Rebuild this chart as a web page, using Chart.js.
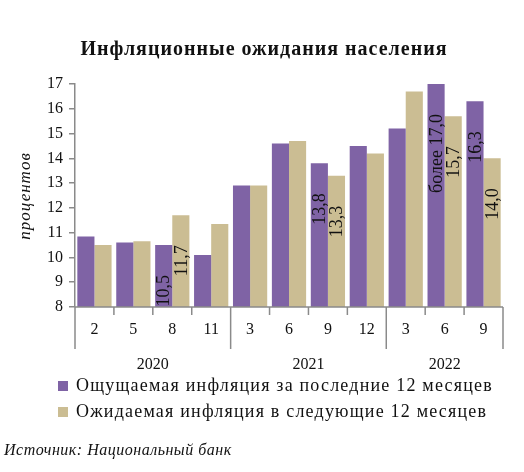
<!DOCTYPE html>
<html><head><meta charset="utf-8">
<script src="https://cdn.jsdelivr.net/npm/chart.js@4"></script>
<style>html,body{margin:0;padding:0;background:#fff}canvas{display:block}</style>
</head><body>
<div style="width:524px;height:472px"><canvas id="c"></canvas></div>
<script>
const months = ['2','5','8','11','3','6','9','12','3','6','9'];
const years = [{label:'2020',from:0,to:3},{label:'2021',from:4,to:7},{label:'2022',from:8,to:10}];
const felt = [10.85,10.6,10.5,10.1,12.9,14.6,13.8,14.5,15.2,17.0,16.3];
const expected = [10.5,10.65,11.7,11.35,12.9,14.7,13.3,14.2,16.7,15.7,14.0];
const feltLabels = {2:'10,5',6:'13,8',9:'более 17,0',10:'16,3'};
const expLabels = {2:'11,7',6:'13,3',9:'15,7',10:'14,0'};
const title = 'Инфляционные ожидания населения';
const seriesNames = ['Ощущаемая инфляция за последние 12 месяцев','Ожидаемая инфляция в следующие 12 месяцев'];
const source = 'Источник: Национальный банк';
const PURPLE='#7f63a5', TAN='#cbbd93', GREY='#8a8a8a';
const SERIF='"Liberation Serif","DejaVu Serif",serif';

const deco = {
  id:'deco',
  afterDatasetsDraw(chart){
    const ctx=chart.ctx, ca=chart.chartArea, x=chart.scales.x, y=chart.scales.y;
    ctx.save();
    ctx.fillStyle='#111'; ctx.font='18px '+SERIF; ctx.textBaseline='middle'; ctx.textAlign='right';
    [[0,feltLabels],[1,expLabels]].forEach(([di,labs])=>{
      const meta=chart.getDatasetMeta(di);
      Object.keys(labs).forEach(k=>{
        const el=meta.data[k];
        const v=chart.data.datasets[di].data[k];
        ctx.save(); ctx.translate(el.x+1, y.getPixelForValue(v)+30); ctx.rotate(-Math.PI/2);
        ctx.fillText(labs[k],0,0); ctx.restore();
      });
    });
    ctx.strokeStyle=GREY; ctx.lineWidth=1.5;
    ctx.beginPath(); ctx.moveTo(ca.left,ca.bottom); ctx.lineTo(ca.right,ca.bottom); ctx.stroke();
    const step=(ca.right-ca.left)/months.length;
    const yearBounds=new Set([0,4,8,11]);
    for(let i=0;i<=months.length;i++){
      const px=ca.left+i*step;
      ctx.beginPath(); ctx.moveTo(px,ca.bottom); ctx.lineTo(px, yearBounds.has(i)?ca.bottom+42:ca.bottom+8); ctx.stroke();
    }
    ctx.fillStyle='#111'; ctx.font='16px '+SERIF; ctx.textAlign='center'; ctx.textBaseline='middle';
    months.forEach((m,i)=>ctx.fillText(m, x.getPixelForValue(i), ca.bottom+23));
    years.forEach(yr=>ctx.fillText(yr.label,(x.getPixelForValue(yr.from)+x.getPixelForValue(yr.to))/2, ca.bottom+58));
    ctx.letterSpacing='1px';
    ctx.font='bold 20px '+SERIF; ctx.fillText(title,264,50);
    ctx.save(); ctx.translate(26,196); ctx.rotate(-Math.PI/2); ctx.font='italic 17px '+SERIF; ctx.fillText('процентов',0,0); ctx.restore();
    ctx.textAlign='left'; ctx.font='18px '+SERIF; ctx.letterSpacing='1.2px';
    [[PURPLE,seriesNames[0],386],[TAN,seriesNames[1],412]].forEach(([c,t,yy])=>{
      ctx.fillStyle=c; ctx.fillRect(58,yy-5,10,10); ctx.fillStyle='#111'; ctx.fillText(t,76,yy);
    });
    ctx.letterSpacing='0.5px';
    ctx.font='italic 16px '+SERIF; ctx.fillText(source,4,451);
    ctx.restore();
  }
};

new Chart(document.getElementById('c'),{
  type:'bar',
  data:{labels:months,datasets:[
    {label:seriesNames[0],data:felt,backgroundColor:PURPLE},
    {label:seriesNames[1],data:expected,backgroundColor:TAN}
  ]},
  options:{
    responsive:true,maintainAspectRatio:false,animation:false,
    layout:{padding:{left:0,top:84,right:21,bottom:165}},
    datasets:{bar:{categoryPercentage:0.88,barPercentage:1}},
    plugins:{legend:{display:false},tooltip:{enabled:false}},
    scales:{
      x:{display:false},
      y:{min:8,max:17,afterFit(s){s.width=75;},
        ticks:{stepSize:1,color:'#111',font:{family:SERIF,size:16},padding:6},
        grid:{display:true,drawOnChartArea:false,tickLength:6,color:GREY,lineWidth:1.5},
        border:{color:GREY,width:1.5}}
    }
  },
  plugins:[deco]
});
</script></body></html>
